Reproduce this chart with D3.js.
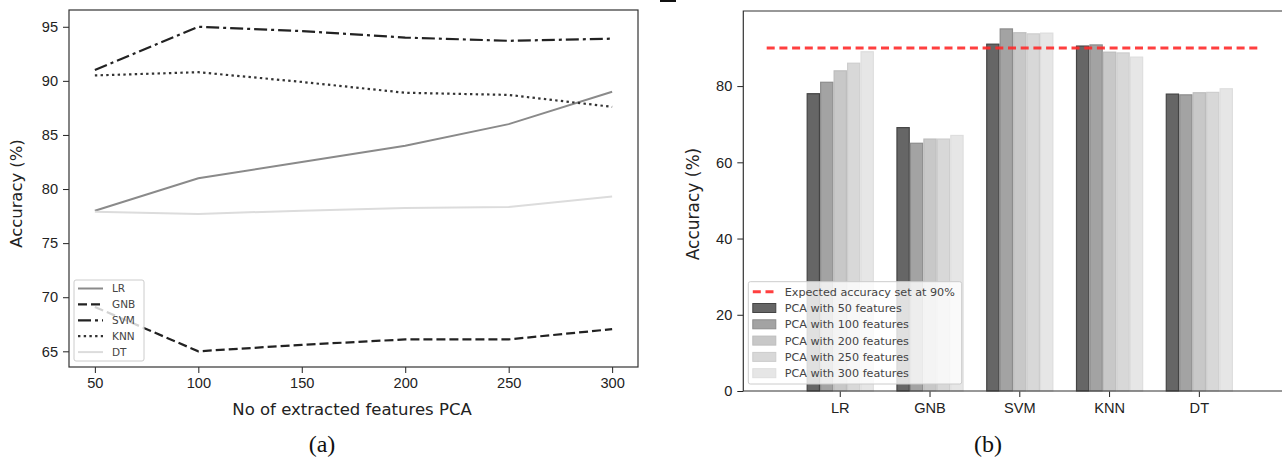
<!DOCTYPE html>
<html>
<head>
<meta charset="utf-8">
<script src="https://cdn.jsdelivr.net/npm/d3@7"></script>
<style>
  body { margin: 0; background: #fff; }
  svg { display: block; font-family: "DejaVu Sans", sans-serif; }
  .axis text { font-size: 14.6px; fill: #222; }
  .axis path, .axis line { stroke: #222; }
</style>
</head>
<body>
<svg id="chart" width="1282" height="465"></svg>
<script>
// feature counts for the line chart and the bar chart
const features = [50, 100, 150, 200, 250, 300];
const barFeatures = [50, 100, 200, 250, 300];
const models = ["LR", "GNB", "SVM", "KNN", "DT"];

// accuracy (%) per model, one value per entry of `features`
const lrAcc = [78, 81, 82.5, 84, 86, 89];
const gnbAcc = [69.1, 65, 65.6, 66.1, 66.1, 67.05];
const svmAcc = [91, 95, 94.6, 94, 93.7, 93.9];
const knnAcc = [90.5, 90.8, 89.9, 88.9, 88.7, 87.6];
const dtAcc = [77.9, 77.7, 78, 78.25, 78.35, 79.3];

const xTicksA = [50, 100, 150, 200, 250, 300];
const yTicksA = [65, 70, 75, 80, 85, 90, 95];
const yTicksB = [0, 20, 40, 60, 80];
const expected = 90;

const accByModel = { LR: lrAcc, GNB: gnbAcc, SVM: svmAcc, KNN: knnAcc, DT: dtAcc };

const svg = d3.select("#chart");

// ---------- (a) line chart ----------
const a = { left: 69, right: 638, top: 10, bottom: 367 };

const xA = d3.scaleLinear().domain([37.5, 312.5]).range([a.left, a.right]);
const yA = d3.scaleLinear().domain([63.55, 96.55]).range([a.bottom, a.top]);

const lineStyles = {
  LR: { color: "#8a8a8a", dash: null, width: 2 },
  GNB: { color: "#222", dash: "9,4", width: 2.2 },
  SVM: { color: "#222", dash: "13,4,3,4", width: 2.2 },
  KNN: { color: "#333", dash: "2.4,3.3", width: 2.2 },
  DT: { color: "#dcdcdc", dash: null, width: 2 }
};

const gA = svg.append("g");

gA.append("g")
  .attr("class", "axis")
  .attr("transform", `translate(0,${a.bottom})`)
  .call(d3.axisBottom(xA).tickValues(xTicksA).tickSize(6).tickPadding(5))
  .call(g => g.select(".domain").remove());

gA.append("g")
  .attr("class", "axis")
  .attr("transform", `translate(${a.left},0)`)
  .call(d3.axisLeft(yA).tickValues(yTicksA).tickSize(6).tickPadding(5))
  .call(g => g.select(".domain").remove());

const line = d3.line()
  .x((d, i) => xA(features[i]))
  .y(d => yA(d));

models.forEach(m => {
  const s = lineStyles[m];
  gA.append("path")
    .attr("d", line(accByModel[m]))
    .attr("fill", "none")
    .attr("stroke", s.color)
    .attr("stroke-width", s.width)
    .attr("stroke-dasharray", s.dash);
});

gA.append("rect")
  .attr("x", a.left).attr("y", a.top)
  .attr("width", a.right - a.left).attr("height", a.bottom - a.top)
  .attr("fill", "none").attr("stroke", "#333").attr("stroke-width", 1.2);

// legend (a)
const legA = gA.append("g").attr("transform", "translate(74,280)");
legA.append("rect")
  .attr("width", 70).attr("height", 81).attr("rx", 2)
  .attr("fill", "#fff").attr("fill-opacity", 0.8)
  .attr("stroke", "#ccc");
models.forEach((m, i) => {
  const s = lineStyles[m];
  const y = 8.5 + i * 15.9;
  legA.append("line")
    .attr("x1", 4).attr("x2", 29).attr("y1", y).attr("y2", y)
    .attr("stroke", s.color).attr("stroke-width", s.width)
    .attr("stroke-dasharray", s.dash);
  legA.append("text")
    .attr("x", 38).attr("y", y + 3.8)
    .attr("font-size", 10.5).attr("fill", "#444")
    .text(m);
});

gA.append("text")
  .attr("x", 352).attr("y", 415)
  .attr("text-anchor", "middle").attr("font-size", 16.5).attr("fill", "#222")
  .text("No of extracted features PCA");

gA.append("text")
  .attr("transform", `translate(22,${(a.top + a.bottom) / 2 + 5}) rotate(-90)`)
  .attr("text-anchor", "middle").attr("font-size", 16.4).attr("fill", "#222")
  .text("Accuracy (%)");

// ---------- (b) grouped bar chart ----------
const b = { left: 743.3, right: 1296.3, top: 11, bottom: 391 };

const xB = d3.scaleBand().domain(models).range([b.left, b.right]).paddingOuter(0.58).paddingInner(0);
const xSub = d3.scaleBand().domain(barFeatures).range([0, xB.bandwidth() * 0.75]);
const yB = d3.scaleLinear().domain([0, 99.7]).range([b.bottom, b.top]);

const barFill = d3.scaleOrdinal().domain(barFeatures)
  .range(["#666666", "#a3a3a3", "#c8c8c8", "#d8d8d8", "#e6e6e6"]);
const barEdge = d3.scaleOrdinal().domain(barFeatures)
  .range(["#444444", "#8c8c8c", "#bdbdbd", "#cdcdcd", "#dedede"]);

const gB = svg.append("g");

gB.append("g")
  .attr("class", "axis")
  .attr("transform", `translate(0,${b.bottom})`)
  .call(d3.axisBottom(xB).tickSize(6).tickPadding(6))
  .call(g => g.select(".domain").remove())
  .call(g => g.selectAll("text").attr("font-size", 15.5));

gB.append("g")
  .attr("class", "axis")
  .attr("transform", `translate(${b.left},0)`)
  .call(d3.axisLeft(yB).tickValues(yTicksB).tickSize(6).tickPadding(5))
  .call(g => g.select(".domain").remove());

models.forEach(m => {
  const x0 = xB(m) + xB.bandwidth() * 0.125;
  barFeatures.forEach(f => {
    const v = accByModel[m][features.indexOf(f)];
    gB.append("rect")
      .attr("x", x0 + xSub(f) + 0.6)
      .attr("y", yB(v))
      .attr("width", xSub.bandwidth() - 1.2)
      .attr("height", yB(0) - yB(v))
      .attr("fill", barFill(f))
      .attr("stroke", barEdge(f))
      .attr("stroke-width", 1.2);
  });
});

gB.append("line")
  .attr("x1", 766.7).attr("x2", 1261.7)
  .attr("y1", yB(expected)).attr("y2", yB(expected))
  .attr("stroke", "#ff2a2a").attr("stroke-opacity", 0.9)
  .attr("stroke-width", 3).attr("stroke-dasharray", "8,4.7");

// spines: left, top, bottom (right side is cut off by the frame)
gB.append("path")
  .attr("d", `M${b.right},${b.top}H${b.left}V${b.bottom}H${b.right}`)
  .attr("fill", "none").attr("stroke", "#333").attr("stroke-width", 1.2);

// legend (b)
const legendItems = ["Expected accuracy set at 90%"].concat(
  barFeatures.map(f => `PCA with ${f} features`));
const legB = gB.append("g").attr("transform", "translate(748.3,281.7)");
legB.append("rect")
  .attr("width", 213.4).attr("height", 102.3).attr("rx", 2)
  .attr("fill", "#fff").attr("fill-opacity", 0.8)
  .attr("stroke", "#ccc");
legendItems.forEach((t, i) => {
  const y = 10 + i * 16.3;
  if (i === 0) {
    legB.append("line")
      .attr("x1", 4.5).attr("x2", 27.5).attr("y1", y).attr("y2", y)
      .attr("stroke", "#ff2a2a").attr("stroke-opacity", 0.9)
      .attr("stroke-width", 3).attr("stroke-dasharray", "8,4.7");
  } else {
    const f = barFeatures[i - 1];
    legB.append("rect")
      .attr("x", 4.5).attr("y", y - 4.5).attr("width", 23).attr("height", 9)
      .attr("fill", barFill(f)).attr("stroke", barEdge(f));
  }
  legB.append("text")
    .attr("x", 36.4).attr("y", y + 4)
    .attr("font-size", 11.2).attr("fill", "#444")
    .text(t);
});

gB.append("text")
  .attr("transform", `translate(699,${(b.top + b.bottom) / 2 + 3}) rotate(-90)`)
  .attr("text-anchor", "middle").attr("font-size", 17).attr("fill", "#222")
  .text("Accuracy (%)");

// small stroke at the top edge, left over from the page the figure came from
svg.append("rect").attr("x", 660).attr("y", 0).attr("width", 16).attr("height", 2).attr("fill", "#111");

// captions
svg.append("text")
  .attr("x", 322).attr("y", 452)
  .attr("text-anchor", "middle").attr("font-size", 24)
  .attr("font-family", "'Liberation Serif', 'DejaVu Serif', serif").attr("fill", "#111")
  .text("(a)");
svg.append("text")
  .attr("x", 988).attr("y", 452)
  .attr("text-anchor", "middle").attr("font-size", 24)
  .attr("font-family", "'Liberation Serif', 'DejaVu Serif', serif").attr("fill", "#111")
  .text("(b)");
</script>
</body>
</html>
